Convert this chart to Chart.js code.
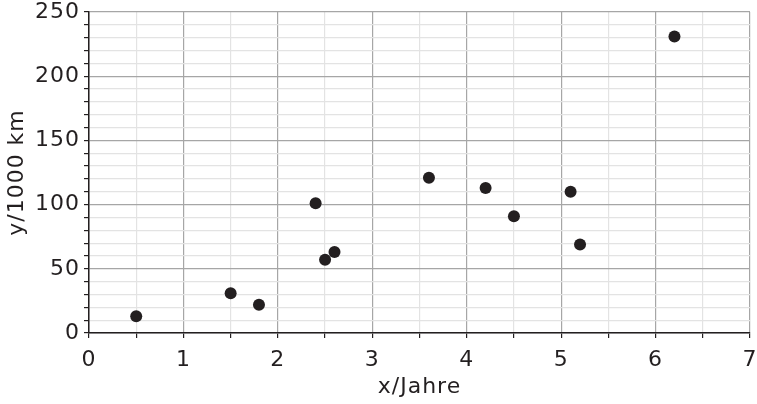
<!DOCTYPE html>
<html><head><meta charset="utf-8">
<script src="https://cdn.jsdelivr.net/npm/chart.js@4/dist/chart.umd.min.js"></script>
<style>html,body{margin:0;padding:0;background:#fff;overflow:hidden}</style>
</head><body>
<canvas id="c" width="757" height="404"></canvas>
<script>
const xValues = [0.5, 1.5, 1.8, 2.4, 2.5, 2.6, 3.6, 4.2, 4.5, 5.1, 5.2, 6.2];
const yValues = [13, 31, 22, 101, 57, 63, 121, 113, 91, 110, 69, 231];
const xTitle = 'x/Jahre';
const yTitle = 'y/1000 km';
const FONT = "'DejaVu Sans', sans-serif";

const points = xValues.map((x, i) => ({x, y: yValues[i]}));

const spacing = {
  id: 'spacing',
  beforeDraw: ch => { ch.ctx.letterSpacing = '1px'; }
};

new Chart(document.getElementById('c'), {
  type: 'scatter',
  data: { datasets: [{ data: points, backgroundColor: '#231f20', borderWidth: 0, pointRadius: 6, pointHoverRadius: 6 }] },
  plugins: [spacing],
  options: {
    responsive: false, animation: false,
    layout: { padding: { top: 12, right: 7, left: 0, bottom: 0 } },
    plugins: { legend: { display: false }, tooltip: { enabled: false } },
    scales: {
      x: {
        type: 'linear', min: 0, max: 7,
        afterFit: s => { s.height = 71; s.paddingLeft = 0; s.paddingRight = 0; },
        ticks: { stepSize: 0.5, autoSkip: false, maxRotation: 0, color: '#231f20', padding: 9,
          font: { family: FONT, size: 22 },
          callback: v => (Math.abs(v % 1) < 1e-9 ? String(v) : '') },
        grid: { tickLength: 5,
          color: c => (Math.abs(c.tick.value % 1) < 1e-9 ? '#a6a6a6' : '#e3e3e3'),
          tickColor: '#231f20', lineWidth: 1.2 },
        border: { color: '#231f20', width: 1.5 },
        title: { display: true, text: xTitle, color: '#231f20', font: { family: FONT, size: 22 }, padding: { top: 0 } }
      },
      y: {
        type: 'linear', min: 0, max: 250,
        afterFit: s => { s.width = 89; s.paddingTop = 0; s.paddingBottom = 0; },
        ticks: { stepSize: 10, autoSkip: false, color: '#231f20', padding: 4,
          font: { family: FONT, size: 22 },
          callback: v => (v % 50 === 0 ? String(v) : '') },
        grid: { tickLength: 5,
          color: c => (c.tick.value % 50 === 0 ? '#a6a6a6' : '#e3e3e3'),
          tickColor: '#231f20', lineWidth: 1.2 },
        border: { color: '#231f20', width: 1.5 },
        title: { display: true, text: yTitle, color: '#231f20', font: { family: FONT, size: 22 }, padding: { bottom: 0 } }
      }
    }
  }
});
</script>
</body></html>
